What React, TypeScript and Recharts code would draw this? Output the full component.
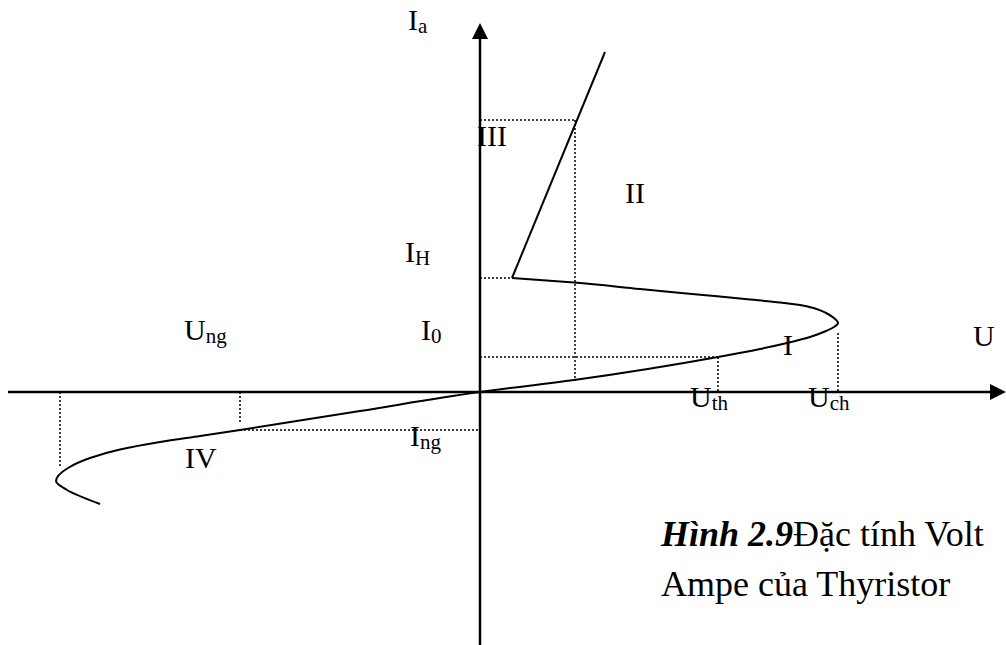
import React from 'react';
import { ComposedChart, Line, Scatter, XAxis, YAxis } from 'recharts';

// Thyristor volt-ampere characteristic (arbitrary units: U horizontal, Ia vertical)

// characteristic operating points
const U_TH = 23.8;
const I_0 = 3.5;
const U_CH = 35.8;
const I_CH_FOOT = 5.9;
const U_H = 3.2;
const I_H = 11.4;
const U_III = 9.5;
const I_III = 27.2;
const U_NG = -24;
const I_NG = -3.8;
const U_BR = -42;
const I_BR = -7.6;

// reverse branch, blocking region and negative-resistance fold;
// the current rises monotonically along the trace, so U is interpolated as a function of Ia
const characteristic = [
  { u: -38.0, i: -11.2 },
  { u: -41.3, i: -9.8 },
  { u: -42.4, i: -8.9 },
  { u: -41.2, i: -7.6 },
  { u: -39.0, i: -6.6 },
  { u: -36.0, i: -5.75 },
  { u: -32.0, i: -5.0 },
  { u: -28.0, i: -4.4 },
  { u: -24.0, i: -3.8 },
  { u: -12.0, i: -1.9 },
  { u: 0, i: 0 },
  { u: 9.4, i: 1.2 },
  { u: 23.8, i: 3.5 },
  { u: 28.0, i: 4.3 },
  { u: 30.7, i: 4.9 },
  { u: 33.0, i: 5.5 },
  { u: 34.6, i: 6.1 },
  { u: 35.4, i: 6.5 },
  { u: 35.8, i: 6.9 },
  { u: 35.4, i: 7.4 },
  { u: 34.6, i: 7.9 },
  { u: 33.5, i: 8.35 },
  { u: 32.0, i: 8.7 },
  { u: 30.0, i: 8.95 },
  { u: 27.0, i: 9.25 },
  { u: 22.3, i: 9.7 },
  { u: 16.0, i: 10.3 },
  { u: 9.4, i: 10.95 },
  { u: 3.2, i: 11.4 },
];

// conducting branch
const onState = [
  { u: 3.2, i: 11.4 },
  { u: 12.5, i: 34.0 },
];

// coordinate axes
const axisU = [
  { u: -47.2, i: 0 },
  { u: 51.4, i: 0 },
];
const axisI = [
  { u: 0, i: -25.5 },
  { u: 0, i: 35.6 },
];
const arrowTips = [
  { u: 52.6, i: 0, dir: 'right' },
  { u: 0, i: 36.9, dir: 'up' },
];

// dotted guide lines
const guides = [
  [{ u: 0, i: I_III }, { u: U_III, i: I_III }],
  [{ u: U_III, i: I_III }, { u: U_III, i: 1.1 }],
  [{ u: 0, i: I_H }, { u: U_H, i: I_H }],
  [{ u: 0, i: I_0 }, { u: U_TH, i: I_0 }],
  [{ u: U_TH, i: I_0 }, { u: U_TH, i: 0 }],
  [{ u: U_CH, i: I_CH_FOOT }, { u: U_CH, i: 0 }],
  [{ u: U_NG, i: I_NG }, { u: 0, i: I_NG }],
  [{ u: U_NG, i: 0 }, { u: U_NG, i: -3.0 }],
  [{ u: U_BR, i: 0 }, { u: U_BR, i: I_BR }],
];

// annotations: anchor (start, baseline) in chart units
const annotations = [
  { u: -7.2, i: 36.2, main: 'I', sub: 'a' },
  { u: -0.3, i: 24.6, main: 'III', sub: '' },
  { u: 14.5, i: 18.9, main: 'II', sub: '' },
  { u: -7.5, i: 13.0, main: 'I', sub: 'H' },
  { u: -29.6, i: 5.2, main: 'U', sub: 'ng' },
  { u: -5.9, i: 5.2, main: 'I', sub: '0' },
  { u: 30.3, i: 3.7, main: 'I', sub: '' },
  { u: 49.3, i: 4.6, main: 'U', sub: '' },
  { u: 21.0, i: -1.5, main: 'U', sub: 'th' },
  { u: 32.8, i: -1.5, main: 'U', sub: 'ch' },
  { u: -7.0, i: -5.4, main: 'I', sub: 'ng' },
  { u: -29.5, i: -7.6, main: 'IV', sub: '' },
];

const FONT = '"Liberation Serif", "Times New Roman", serif';

const renderLabel = (props: any) => {
  const { cx, cy, payload } = props;
  return (
    <text x={cx} y={cy} fontFamily={FONT} fontSize={30} fill="#000">
      {payload.main}
      {payload.sub ? (
        <tspan fontSize={21} dy={3}>
          {payload.sub}
        </tspan>
      ) : null}
    </text>
  );
};

const renderArrow = (props: any) => {
  const { cx, cy, payload } = props;
  const len = 16;
  const half = 8;
  const pts =
    payload.dir === 'up'
      ? `${cx},${cy} ${cx - half},${cy + len} ${cx + half},${cy + len}`
      : `${cx},${cy} ${cx - len},${cy - half} ${cx - len},${cy + half}`;
  return <polygon points={pts} fill="#000" />;
};

export default function App() {
  return (
    <div style={{ position: 'absolute', left: 0, top: 0, width: 1006, height: 645, background: '#fff' }}>
      <ComposedChart width={1006} height={645} margin={{ top: 0, right: 0, bottom: 0, left: 0 }}>
        <XAxis type="number" dataKey="u" domain={[-48, 52.6]} hide allowDataOverflow />
        <YAxis type="number" dataKey="i" domain={[-25.3, 39.2]} hide allowDataOverflow />
        {guides.map((g, k) => (
          <Line
            key={`g${k}`}
            data={g}
            dataKey="i"
            type="linear"
            stroke="#000"
            strokeWidth={1.5}
            strokeDasharray="2 2"
            dot={false}
            activeDot={false}
            isAnimationActive={false}
          />
        ))}
        <Line data={axisU} dataKey="i" type="linear" stroke="#000" strokeWidth={2.5} dot={false} activeDot={false} isAnimationActive={false} />
        <Line data={axisI} dataKey="i" type="linear" stroke="#000" strokeWidth={2.5} dot={false} activeDot={false} isAnimationActive={false} />
        <Line data={characteristic} dataKey="i" type="monotoneY" stroke="#000" strokeWidth={2} dot={false} activeDot={false} isAnimationActive={false} />
        <Line data={onState} dataKey="i" type="linear" stroke="#000" strokeWidth={2} dot={false} activeDot={false} isAnimationActive={false} />
        <Scatter data={arrowTips} dataKey="i" shape={renderArrow} isAnimationActive={false} />
        <Scatter data={annotations} dataKey="i" shape={renderLabel} isAnimationActive={false} />
      </ComposedChart>
      <svg width={1006} height={645} style={{ position: 'absolute', left: 0, top: 0, pointerEvents: 'none' }}>
        <text x={661} y={546} fontFamily={FONT} fontSize={36} fill="#000">
          <tspan fontWeight="bold" fontStyle="italic">Hình 2.9</tspan>
          <tspan>Đặc tính Volt</tspan>
        </text>
        <text x={661} y={596} fontFamily={FONT} fontSize={36} fill="#000">
          Ampe của Thyristor
        </text>
      </svg>
    </div>
  );
}
